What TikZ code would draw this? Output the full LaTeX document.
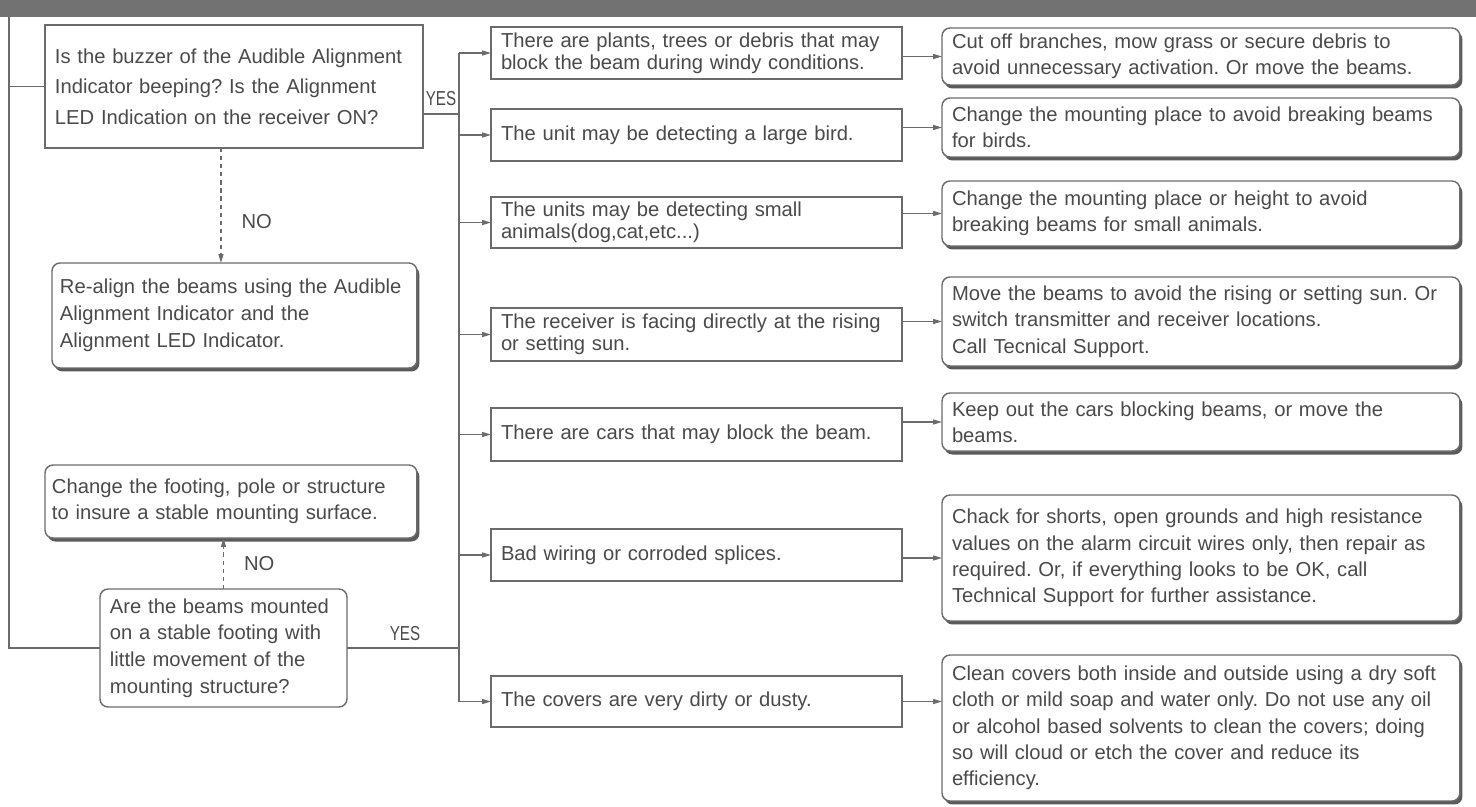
\documentclass[tikz,border=0pt]{standalone}
\usepackage{fontspec}
\setmainfont{Liberation Sans}
\usepackage{graphicx}
\usetikzlibrary{arrows.meta, positioning, shadows}
\frenchspacing
\definecolor{tbInk}{HTML}{4A4A4A}
\definecolor{tbLine}{HTML}{6B6B6B}
\definecolor{tbShade}{HTML}{5A5A5A}
\definecolor{tbBar}{HTML}{727272}
\tikzset{
  tbtext/.style={text=tbInk, align=left, inner xsep=0.2cm, inner ysep=0pt,
                 outer sep=0pt, anchor=north west},
  tbquery/.style={tbtext, rectangle, draw=tbLine, line width=0.8pt, fill=white,
                  font=\fontsize{11.5}{15.4}\selectfont},
  tbcause/.style={tbtext, rectangle, draw=tbLine, line width=0.8pt, fill=white,
                  font=\fontsize{11.5}{12.6}\selectfont, text width=7.82cm},
  tbaction/.style={tbtext, rectangle, rounded corners=0.16cm, draw=tbLine,
                   line width=0.8pt, fill=white, font=\fontsize{11.5}{15}\selectfont,
                   drop shadow={shadow xshift=0.05cm, shadow yshift=-0.07cm,
                                fill=tbShade, opacity=1}},
  tbflow/.style={-{Triangle[length=5pt,width=2.8pt]}, line width=0.7pt, draw=tbLine},
  tbline/.style={line width=0.7pt, draw=tbLine},
  tbdash/.style={tbflow, dash pattern=on 2.4pt off 2.2pt},
  tblabel/.style={text=tbInk, font=\fontsize{11.5}{14}\selectfont, inner sep=0pt},
}
\newcommand{\tbyes}{\scalebox{0.75}[1]{YES}}
\begin{document}
\begin{tikzpicture}[x=0.02cm, y=-0.02cm]
  \useasboundingbox (0,0) rectangle (1476,806);
  \fill[tbBar] (0,0) rectangle (1476,17);
  % left column: checks
  \node[tbquery, inner xsep=0.2cm, text width=7.16cm, minimum height=2.46cm,
        font=\fontsize{11.5}{17.4}\selectfont] (buzzer) at (45,25)
       {Is the buzzer of the Audible Alignment\\Indicator beeping? Is the Alignment\\LED Indication on the receiver ON?};
  \node[tbaction, inner xsep=0.16cm, text width=6.98cm, minimum height=2.1cm,
        font=\fontsize{11.5}{15.4}\selectfont] (realign) at (52,263)
       {Re-align the beams using the Audible\\Alignment Indicator and the\\Alignment LED Indicator.};
  \node[tbaction, inner xsep=0.14cm, text width=7.16cm, minimum height=1.46cm,
        font=\fontsize{11.5}{14.8}\selectfont] (footing) at (45,465)
       {Change the footing, pole or structure\\to insure a stable mounting surface.};
  \node[tbquery, rounded corners=0.16cm, text width=4.54cm, minimum height=2.36cm,
        font=\fontsize{11.5}{15.2}\selectfont] (stable) at (100,589)
       {Are the beams mounted\\on a stable footing with\\little movement of the\\mounting structure?};
  % middle column: causes
  \node[tbcause, minimum height=1.04cm] (plants) at (491,27)
       {There are plants, trees or debris that may\\block the beam during windy conditions.};
  \node[tbcause, minimum height=1.04cm] (bird) at (491,109)
       {The unit may be detecting a large bird.};
  \node[tbcause, minimum height=1.02cm] (animals) at (491,197)
       {The units may be detecting small\\animals(dog,cat,etc...)};
  \node[tbcause, minimum height=1.06cm] (sun) at (491,308)
       {The receiver is facing directly at the rising\\or setting sun.};
  \node[tbcause, minimum height=1.06cm] (cars) at (491,408)
       {There are cars that may block the beam.};
  \node[tbcause, minimum height=1.04cm] (wiring) at (491,529)
       {Bad wiring or corroded splices.};
  \node[tbcause, minimum height=1.02cm] (covers) at (491,676)
       {The covers are very dirty or dusty.};
  % right column: remedies
  \node[tbaction, text width=9.96cm, minimum height=1.14cm] (trim) at (942,28)
       {Cut off branches, mow grass or secure debris to\\avoid unnecessary activation. Or move the beams.};
  \node[tbaction, text width=9.96cm, minimum height=1.18cm] (moveb) at (942,98)
       {Change the mounting place to avoid breaking beams\\for birds.};
  \node[tbaction, text width=9.96cm, minimum height=1.3cm] (movea) at (942,181)
       {Change the mounting place or height to avoid\\breaking beams for small animals.};
  \node[tbaction, text width=9.96cm, minimum height=1.78cm] (shade) at (942,277)
       {Move the beams to avoid the rising or setting sun. Or\\switch transmitter and receiver locations.\\Call Tecnical Support.};
  \node[tbaction, text width=9.96cm, minimum height=1.16cm] (keep) at (942,393)
       {Keep out the cars blocking beams, or move the\\beams.};
  \node[tbaction, text width=9.96cm, minimum height=2.52cm] (check) at (942,495)
       {Chack for shorts, open grounds and high resistance\\values on the alarm circuit wires only, then repair as\\required. Or, if everything looks to be OK, call\\Technical Support for further assistance.};
  \node[tbaction, text width=9.96cm, minimum height=2.92cm] (clean) at (942,655)
       {Clean covers both inside and outside using a dry soft\\cloth or mild soap and water only. Do not use any oil\\or alcohol based solvents to clean the covers; doing\\so will cloud or etch the cover and reduce its\\efficiency.};
  % wiring
  \coordinate (lft) at (9,17);
  \coordinate (bus) at (459,0);
  \draw[tbline](lft) |- (stable.west);
  \draw[tbline](buzzer.west) -- (buzzer.west -| lft);
  \draw[tbline]([yshift=-0.55cm]buzzer.east) -- ([yshift=-0.55cm]buzzer.east -| bus);
  \draw[tbline](stable.east) -- (stable.east -| bus);
  \draw[tbline](plants.west -| bus) -- (covers.west -| bus);
  \node[tblabel] at (441,99) {\tbyes};
  \node[tblabel] at (405,634) {\tbyes};
  \draw[tbdash]([xshift=-0.26cm]buzzer.south) -- node[tblabel, pos=0.64, right=0.4cm]{NO} ([xshift=-0.26cm]buzzer.south |- realign.north);
  \draw[tbdash](stable.north) -- node[tblabel, right=0.4cm]{NO} (stable.north |- footing.south);
  \draw[tbflow](plants.west -| bus) -- (plants.west);
  \draw[tbflow](bird.west -| bus) -- (bird.west);
  \draw[tbflow](animals.west -| bus) -- (animals.west);
  \draw[tbflow](sun.west -| bus) -- (sun.west);
  \draw[tbflow](cars.west -| bus) -- (cars.west);
  \draw[tbflow](wiring.west -| bus) -- (wiring.west);
  \draw[tbflow](covers.west -| bus) -- (covers.west);
  \draw[tbflow](trim.west -| plants.east) -- (trim.west);
  \draw[tbflow](moveb.west -| bird.east) -- (moveb.west);
  \draw[tbflow](movea.west -| animals.east) -- (movea.west);
  \draw[tbflow](shade.west -| sun.east) -- (shade.west);
  \draw[tbflow](keep.west -| cars.east) -- (keep.west);
  \draw[tbflow](check.west -| wiring.east) -- (check.west);
  \draw[tbflow](covers.east) -- (covers.east -| clean.west);
\end{tikzpicture}
\end{document}
